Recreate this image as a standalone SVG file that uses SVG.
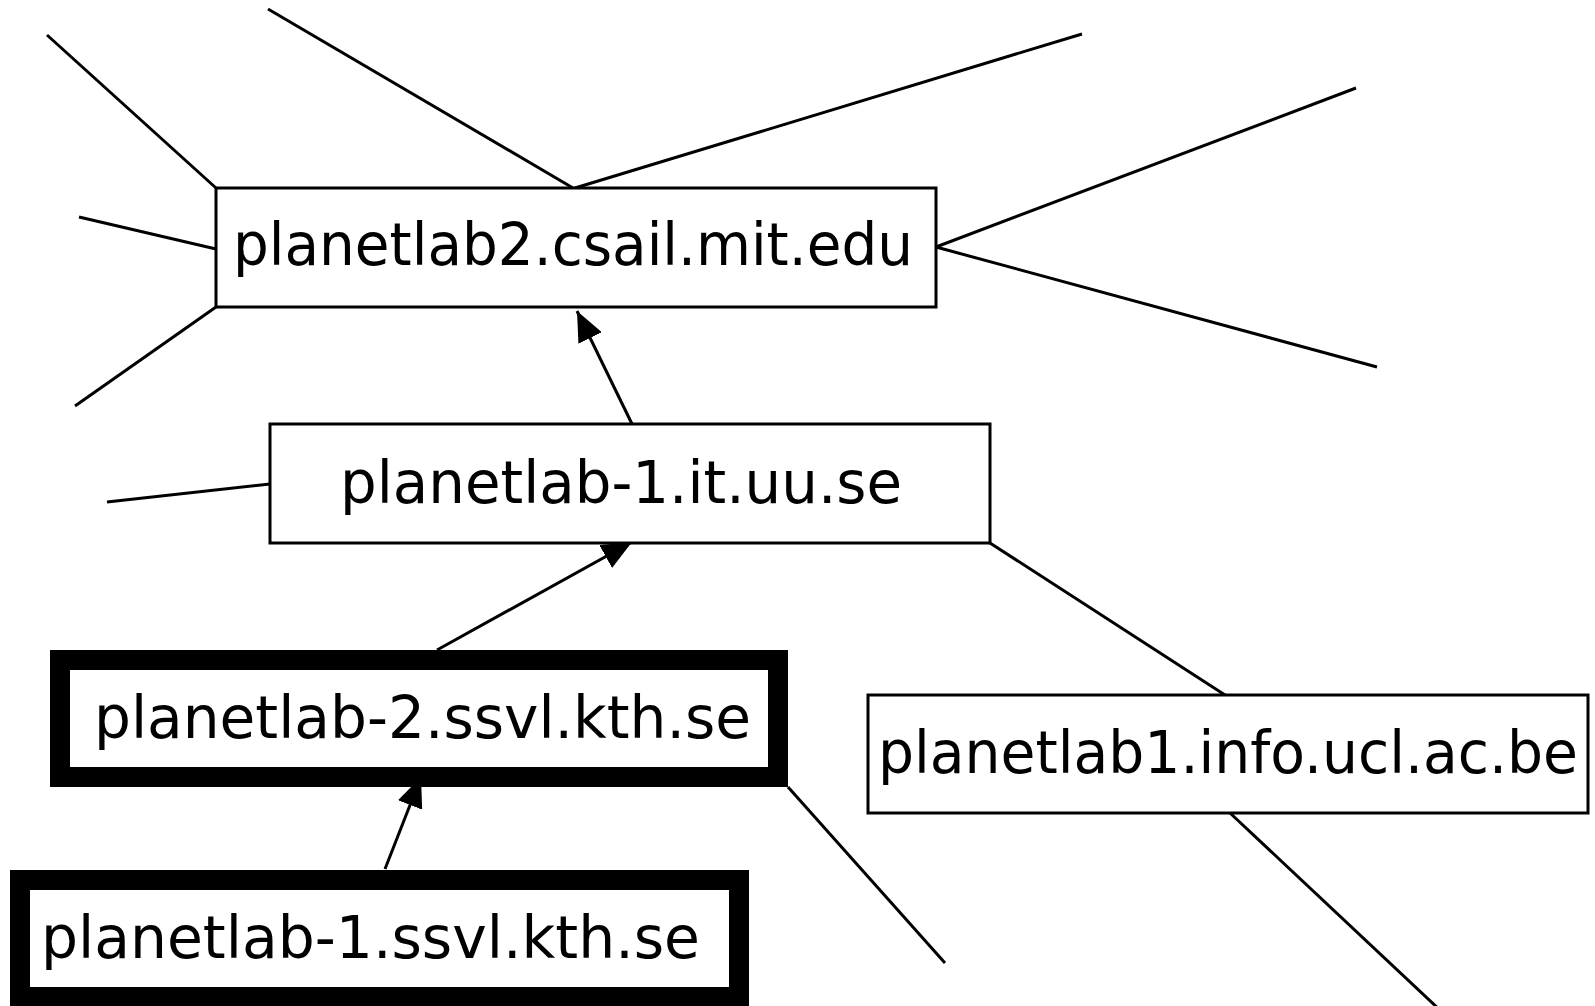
<svg xmlns="http://www.w3.org/2000/svg" width="1595" height="1006" viewBox="0 0 1595 1006">
  <style>
    .edge { stroke: #000; stroke-width: 3; fill: none; }
    .arrow { stroke: #000; stroke-width: 3; fill: none; marker-end: url(#head); }
    .box { fill: #fff; stroke: #000; stroke-width: 3; }
    .bold { fill: #fff; stroke: #000; stroke-width: 20; }
    .label { font-family: "DejaVu Sans", Verdana, sans-serif; font-size: 58px; fill: #000; }
  </style>
  <defs>
    <marker id="head" markerUnits="userSpaceOnUse" markerWidth="30" markerHeight="26" refX="30" refY="13" orient="auto" viewBox="0 0 30 26">
      <path d="M0,0 L30,13 L0,26 Z" fill="#000"/>
    </marker>
  </defs>
  <rect width="1595" height="1006" fill="#fff"/>
  <g id="connectors">
    <line class="edge" x1="47" y1="35" x2="216" y2="188"/>
    <line class="edge" x1="268" y1="9" x2="573" y2="188"/>
    <line class="edge" x1="575" y1="188" x2="1082" y2="34"/>
    <line class="edge" x1="79" y1="217" x2="216" y2="249"/>
    <line class="edge" x1="216" y1="307" x2="75" y2="406"/>
    <line class="edge" x1="936" y1="247" x2="1356" y2="88"/>
    <line class="edge" x1="936" y1="247" x2="1377" y2="367"/>
    <line class="edge" x1="107" y1="502" x2="270" y2="484"/>
    <line class="edge" x1="990" y1="543" x2="1225" y2="695"/>
    <line class="edge" x1="1230" y1="813" x2="1442" y2="1012"/>
    <line class="edge" x1="788" y1="787" x2="945" y2="963"/>
    <path class="arrow" d="M632,424 L577,311"/>
    <path class="arrow" d="M437,650 L632,542"/>
    <path class="arrow" d="M385,869 L421,777"/>
  </g>
  <g id="node-mit">
    <rect class="box" x="216" y="188" width="720" height="119"/>
    <text class="label" x="233" y="265" textLength="680" lengthAdjust="spacingAndGlyphs">planetlab2.csail.mit.edu</text>
  </g>
  <g id="node-uu">
    <rect class="box" x="270" y="424" width="720" height="119"/>
    <text class="label" x="340" y="503" textLength="562" lengthAdjust="spacingAndGlyphs">planetlab-1.it.uu.se</text>
  </g>
  <g id="node-ucl">
    <rect class="box" x="868" y="695" width="720" height="118"/>
    <text class="label" x="878" y="773" textLength="700" lengthAdjust="spacingAndGlyphs">planetlab1.info.ucl.ac.be</text>
  </g>
  <g id="node-kth2">
    <rect class="bold" x="60" y="660" width="718" height="117"/>
    <text class="label" x="94" y="738" textLength="657" lengthAdjust="spacingAndGlyphs">planetlab-2.ssvl.kth.se</text>
  </g>
  <g id="node-kth1">
    <rect class="bold" x="20" y="880" width="719" height="117"/>
    <text class="label" x="41" y="958" textLength="659" lengthAdjust="spacingAndGlyphs">planetlab-1.ssvl.kth.se</text>
  </g>
</svg>
